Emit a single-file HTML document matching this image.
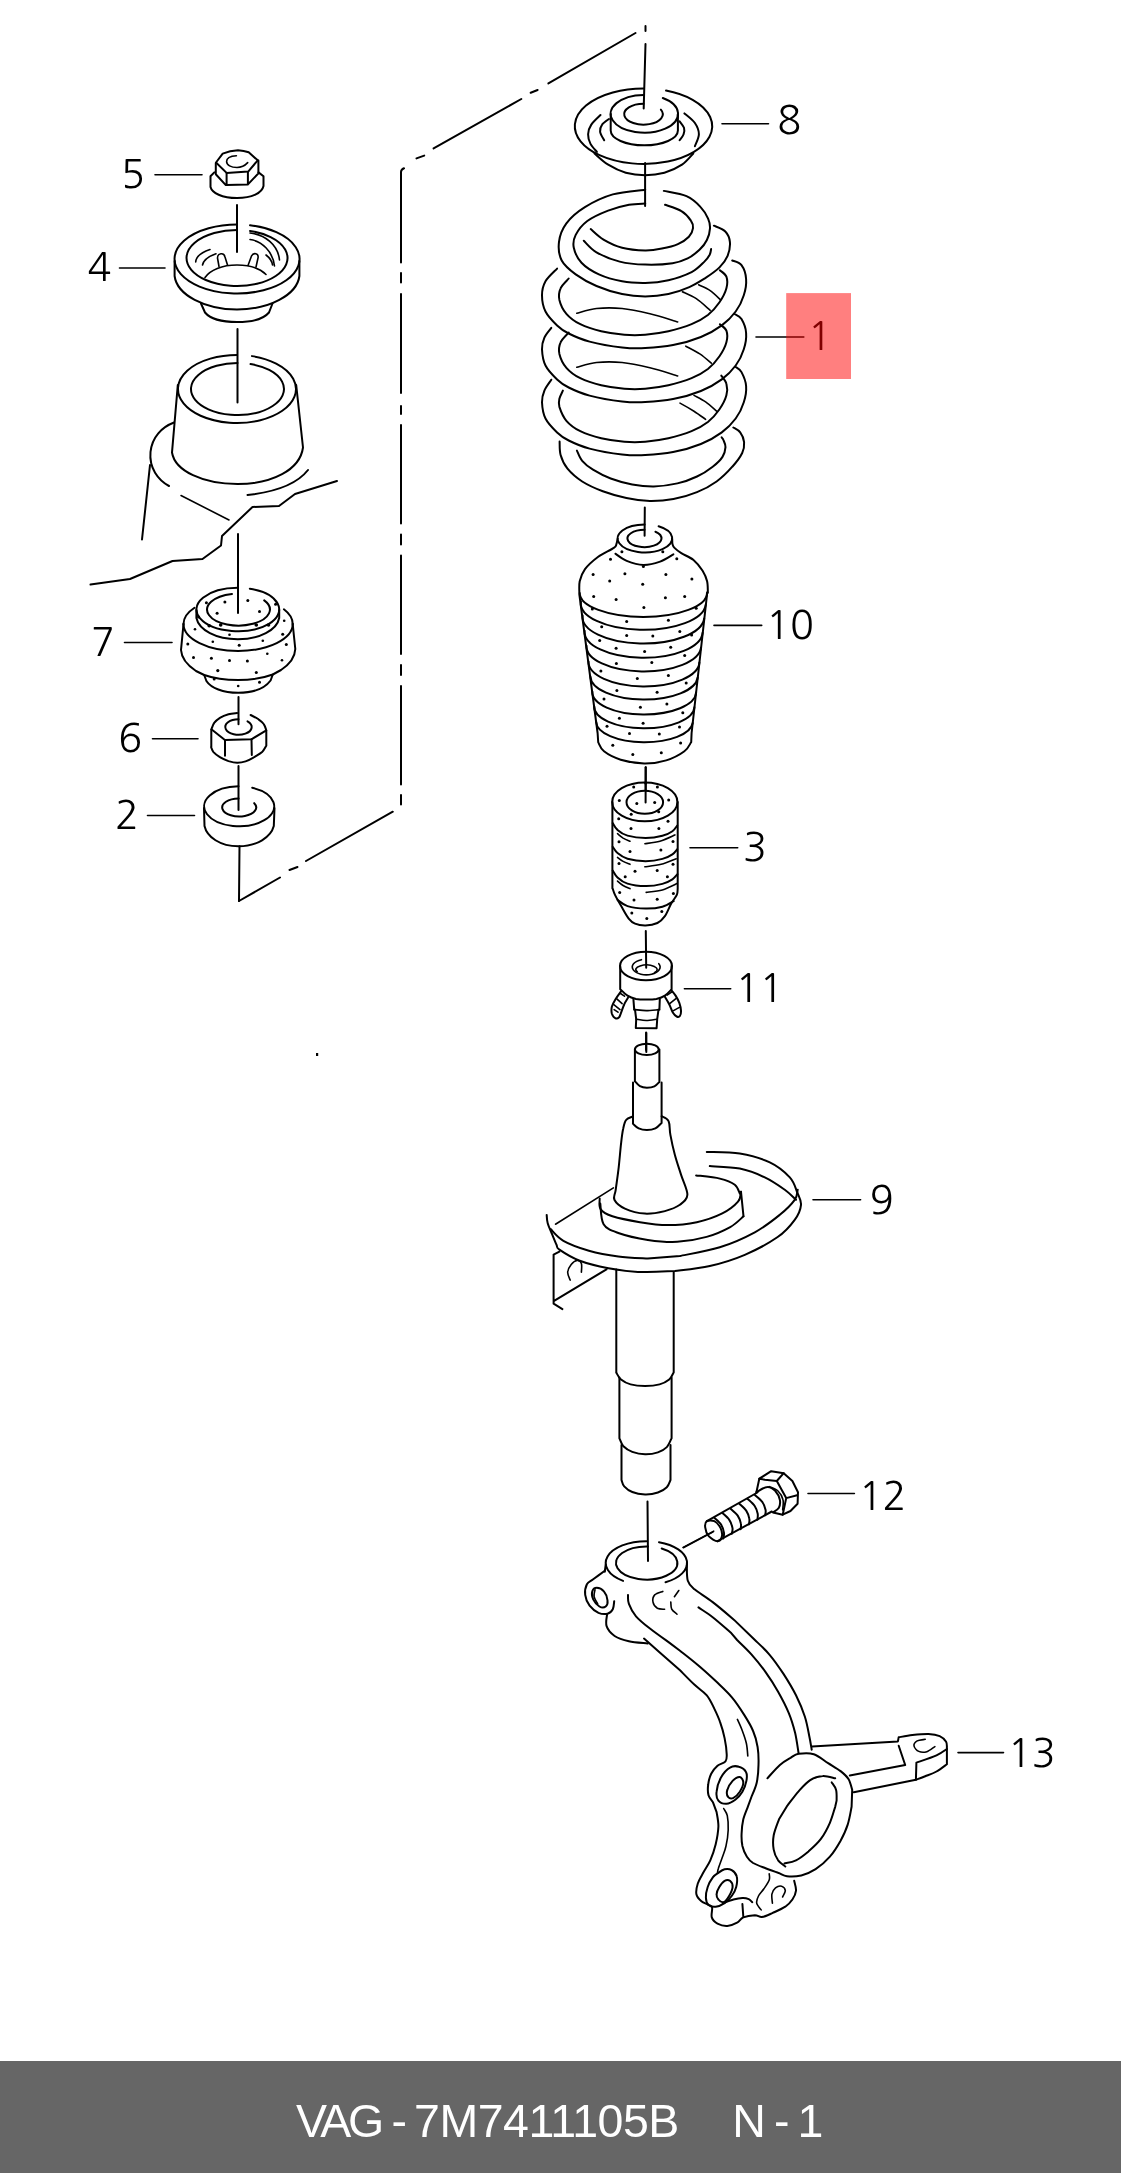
<!DOCTYPE html>
<html lang="en">
<head>
<meta charset="utf-8">
<title>VAG - 7M7411105B N - 1</title>
<style>
html,body{margin:0;padding:0;background:#fff;}
#page{will-change:transform;position:relative;width:1121px;height:2173px;overflow:hidden;background:#fff;}
#dia{position:absolute;left:0;top:0;width:1121px;height:2061px;display:block;}
#dia .l{fill:none;stroke:#000;stroke-width:2;stroke-linecap:round;stroke-linejoin:round;}
#dia .t{fill:none;stroke:#000;stroke-width:1.6;stroke-linecap:round;stroke-linejoin:round;}
#dia .w{fill:#fff;stroke:#000;stroke-width:2;stroke-linecap:round;stroke-linejoin:round;}
#dia .d{fill:#000;stroke:none;}
#dia text{font-family:"NanumGothic","Liberation Sans",sans-serif;font-size:39.5px;fill:#000;}
#foot{position:absolute;left:0;top:2061px;width:1121px;height:112px;background:#666;color:#fff;
font-family:"Liberation Sans",sans-serif;font-size:46.5px;line-height:54px;white-space:pre;word-spacing:-4.8px;}
#foot span{position:absolute;top:33.4px;}
#foot .a{left:296px;letter-spacing:-0.5px;}
#foot .a b{font-weight:normal;letter-spacing:-3.3px;margin-right:3px;}
#foot .c{left:732.3px;}
</style>
</head>
<body>
<div id="page">
<svg id="dia" viewBox="0 0 1121 2061" width="1121" height="2061">
<!--BOX-->
<g class="l">
<path d="M401 262.5V172Q401 169.5 404 168.3"/>
<path d="M401 273v9.5M401 294v99M401 406v8M401 425v98.5M401 534.5v10M401 555.5v98.5M401 665v10M401 686v98.5M401 795v9.5"/>
<path d="M416.5 158.4l7.7-2.8M433.6 148.4L521.3 99M530.7 92.8l6.9-2.8M548.4 83.4L635.5 33M645.5 26v5"/>
<path d="M392.8 811.7L306 861M297.5 867l-8 3M280 877.5L239 901"/>
</g>
<!--/BOX-->
<!--P5-->
<g class="l">
<!-- flange -->
<path d="M214.3 172.4L210.5 176.3V187C212 193 222 198 237 198S262 193 263.5 186V176.3L258.5 172.4"/>
<!-- hex top -->
<path d="M216 162.5L222.7 153.7Q230 150.6 238 150.3Q244 150.6 248.7 152.3L257.7 160.3L248.2 171.6L226.6 172.9Z"/>
<!-- hex sides -->
<path d="M215.8 163V174.3L225.8 185.1H226.6L247.7 184.6L258.4 173.4V160.6M226.6 172.9V185.1M247.9 171.9V184.6"/>
<!-- C -->
<path class="t" d="M236.4 155.7C230 156 226.6 158.5 226.6 161.6C226.6 165 231 167.5 237 167.5C242 167.5 245 165.5 247.7 162.6"/>
<!-- center line -->
<path d="M237 205V252"/>
</g>
<!--/P5-->
<!--P4-->
<g class="l">
<!-- outer rim ellipse with gap at top -->
<path d="M250.00 225.25A62.5 34.5 0 1 1 237.00 224.50"/>
<path d="M250.00 230.94A50.5 28 0 1 1 237.00 230.00"/>
<!-- rim lower edge -->
<path d="M174.6 261V276C177 295 205 309.5 237 309.5S297 295 299.4 276V261"/>
<!-- hub -->
<path d="M201 303.5L205 312.5C210 318.5 222 322 237 322S264 318.5 269 312.5L272.5 303.5"/>
<!-- inner arcs -->
<path class="t" d="M195.7 262C196 257 201 252.5 210 249.5M202.5 265C203.5 260 208 256.5 216 253.7"/>
<path class="t" d="M250 233C265 234.5 278 245 279.5 260M250 239.5C262 241 273 252 274.5 266M266 255C270 258 272 261 272.5 265"/>
<!-- tabs -->
<path class="t" d="M219 266.5L217.5 258C217.5 253 224 252 225 257L227.5 265"/>
<path class="t" d="M248 265.5L251.5 256C253.5 252 259 253.5 258 258L256 267"/>
<!-- floor -->
<path class="t" d="M205 277.5C210 270 222 265 237 265S260 268.5 266 274.5"/>
<!-- center line below -->
<path d="M237.5 329V402.5"/>
</g>
<!--/P4-->
<!--HOUSING-->
<g class="l">
<path d="M252.00 356.12A59 34 0 1 1 237.00 355.00"/>
<path d="M250.50 364.04A46.5 26 0 1 1 237.50 363.00"/>
<path d="M177.8 385L172 452.5C175 471 203 484 237.5 484S300 470 303 447.5L296.2 385"/>
<!-- base left arc -->
<path d="M174 422.5C162 427 152 437 150.5 452C149 468 158 480 169 486"/>
<path d="M150 465L142 539.5"/>
<!-- right arc -->
<path d="M308 470C297 484 275 492 247.5 495"/>
<path class="t" d="M181 495.5L229 520"/>
<!-- jagged edge -->
<path d="M337 481L295 494L279 506L252.5 507L222 536L221 545.5L202.5 559L172.5 561L130 579L90.5 584.5"/>
<!-- center line -->
<path d="M238 534V613"/>
</g>
<!--/HOUSING-->
<!--P7-->
<g class="l">
<!-- small cylinder top -->
<path d="M249.80 588.73A41.4 21.7 0 1 1 237.80 587.80"/>
<path d="M264.22 600.42A31.4 16 0 1 1 231.97 593.95"/>
<path d="M196.4 610V618C199 630 216 639.2 237.8 639.2S277 630 279.2 618V610"/>
<!-- main body top ellipse visible parts -->
<path d="M283.89 609.29A54.6 27 0 0 1 292.70 624.00"/>
<path d="M183.50 624.00A54.6 27 0 0 1 194.49 607.75"/>
<path d="M292.70 624.00A54.6 27 0 0 1 183.50 624.00"/>
<!-- body sides and bottom -->
<path d="M183.5 624L181 650C181.5 658 187 665 196 671L204.2 675C214 678.5 225 680 238.2 680S262 678.5 272.8 674.5L281 670C290 664 295 657 295.3 649L292.7 624"/>
<!-- hub -->
<path d="M204.2 675L206.4 681C211 688 223 692.8 238.2 692.8S265 688 270.6 680.5L272.8 674.5"/>
</g>
<g class="d">
<circle cx="206.4" cy="602.8" r="1.5"/><circle cx="224.9" cy="602.1" r="1.5"/><circle cx="247.8" cy="600.4" r="1.5"/><circle cx="275.6" cy="604.3" r="1.5"/>
<circle cx="217.1" cy="613.3" r="1.5"/><circle cx="259.5" cy="611.4" r="1.5"/><circle cx="198.5" cy="617.1" r="1.5"/><circle cx="209.2" cy="625.7" r="1.8"/>
<circle cx="220.7" cy="625" r="1.8"/><circle cx="256.3" cy="625" r="1.8"/><circle cx="268.5" cy="625" r="1.8"/>
<circle cx="195" cy="629.2" r="1.3"/><circle cx="229.5" cy="634.7" r="1.3"/><circle cx="284.2" cy="620.7" r="1.3"/><circle cx="282.7" cy="634.2" r="1.5"/>
<circle cx="262.8" cy="640.7" r="1.3"/><circle cx="212.8" cy="641.8" r="1.3"/><circle cx="239.2" cy="645.2" r="1.5"/>
<circle cx="187.8" cy="643.9" r="1.5"/><circle cx="286.3" cy="644.5" r="1.5"/><circle cx="193.5" cy="657.4" r="1.5"/><circle cx="211.4" cy="658.2" r="1.5"/>
<circle cx="229.5" cy="660.4" r="1.5"/><circle cx="247.4" cy="660.9" r="1.5"/><circle cx="267.3" cy="653.8" r="1.3"/><circle cx="282" cy="660.2" r="1.3"/>
<circle cx="217.8" cy="670.6" r="1.6"/><circle cx="256.3" cy="672.5" r="1.5"/>
<circle cx="214.2" cy="678.9" r="1.5"/><circle cx="259.5" cy="682.3" r="1.5"/><circle cx="238.2" cy="686" r="1.3"/>
</g>
<!--/P7-->
<!--P6-->
<g class="l">
<path d="M238.5 697V724.3"/>
<path d="M237.1 713.1C235.6 713.3 231.4 713.5 228.5 714.3C225.7 715.1 222.3 716.4 219.9 717.8C217.6 719.3 215.7 720.9 214.2 722.8C212.8 724.7 211.9 728.2 211.4 729.3L224.9 740L251.4 739.3L266.3 730.3L266.3 730.3C265.9 729.3 265.2 726.1 263.9 724.3C262.6 722.4 260.7 720.8 258.5 719.3C256.3 717.7 251.9 715.7 250.6 715"/>
<path d="M211.3 729.5V747L211.1 747.1C211.5 747.9 212.1 750.4 213.5 752.1C215 753.8 217.5 755.6 219.9 757.1C222.4 758.6 225.7 760.1 228.5 761.1C231.4 762 234.2 762.8 237.1 762.8C239.9 762.9 242.8 762.3 245.6 761.4C248.5 760.4 251.5 758.6 254.2 757.1C256.9 755.5 260 754 262.1 752.1C264.1 750.2 265.6 746.7 266.3 745.7V730.5M225 740V755.7M251.5 739.3L251.8 755"/>
<path d="M247.50 721.29A13.2 7.8 0 1 1 238.50 719.20"/>
<path d="M238.5 766V810"/>
</g>
<!--/P6-->
<!--P2-->
<g class="l">
<path d="M252.20 787.73A35 20 0 1 1 238.50 786.30"/>
<path d="M254.21 803.17A17 9 0 1 1 238.61 798.41"/>
<path d="M204 808L204.5 826C207 837 220 846.3 238.5 846.3S271 837 273.8 826L274.5 808"/>
<path d="M239.5 846.3L239 901"/>
</g>
<!--/P2-->
<!--P8-->
<g class="l">
<path d="M645.5 44L643.7 108.5M645.1 163V206"/>
<path d="M666.00 90.58A68.7 37.7 0 1 1 643.50 88.50"/>
<path d="M594.5 153.5C596.8 155.4 603 161.5 608.2 164.7C613.4 167.9 619.7 171 625.8 172.8C632 174.5 638.7 175.2 645.1 175.2C651.5 175.2 658.2 174.5 664.4 172.8C670.5 171 677.2 167.9 682 164.7C686.8 161.5 691.4 155.4 693.3 153.5"/>
<path d="M600.5 115C598.9 116.6 593.4 121.4 591.3 124.6C589.2 127.8 588.2 131 588.1 134.2C588 137.4 589 140.9 590.5 143.9C592 146.8 595.9 150.6 596.9 151.9"/>
<path d="M684.4 113.4C686.2 115 692.5 119.5 694.9 123C697.3 126.5 698.9 130.3 698.9 134.2C698.9 138.1 695.5 144.3 694.9 146.3"/>
<path d="M609 119C607.8 119.9 603.5 122.5 602.1 124.6C600.6 126.7 599.8 129.2 600.1 131.8C600.5 134.4 603.5 138.9 604.2 140.3"/>
<path d="M679.6 121.4C680.3 122.5 683.3 125.7 684 127.8C684.6 129.9 684.4 132.1 683.6 134.2C682.9 136.3 680.3 139.3 679.6 140.3"/>
<path d="M662.80 97.99A33.7 18.9 0 1 1 643.50 94.91"/>
<path d="M610.7 114V130.5A33.6 14.8 0 0 0 677.90 130.50V114"/>
<path d="M660.85 109.64A19.3 10.4 0 1 1 643.50 103.80"/>
</g>
<!--/P8-->
<!--P1-->
<g class="l">
<!-- coil 1 -->
<path d="M645.2 189.7C639.8 190.5 622.8 191.5 612.8 194.4C602.7 197.3 592.7 202.3 584.9 207.1C577.2 211.9 570.7 217.5 566.4 223.3C562.1 229.1 559.7 235.7 559 241.9C558.2 248.1 559 255 561.7 260.5C564.5 265.9 569.9 270.1 575.7 274.4C581.5 278.6 588.8 282.7 596.5 286C604.3 289.3 613.9 292.3 622.1 294.1C630.2 295.8 637.5 296.4 645.2 296.4C653 296.4 661.1 295.6 668.4 294.1C675.8 292.5 683.1 289.8 689.3 287.1C695.5 284.4 700.5 281.1 705.6 277.9C710.6 274.6 715.8 271.1 719.5 267.4C723.1 263.7 725.8 260.1 727.6 255.8C729.3 251.6 730.3 246 729.9 241.9C729.5 237.8 727.9 234.2 725.3 231.5C722.6 228.8 715.8 226.6 713.9 225.7"/>
<path d="M645.2 203.6C642.5 203.8 635.2 203.6 629 204.8C622.8 206 615.1 207.9 608.1 210.6C601.2 213.3 592.7 217 587.3 221C581.9 225.1 577.9 230.5 575.7 234.9C573.4 239.4 572.8 243.1 573.8 247.7C574.8 252.3 577.3 258.3 581.5 262.8C585.6 267.2 592.1 271.3 598.9 274.4C605.6 277.5 614.3 279.9 622.1 281.3C629.8 282.8 637.5 283.1 645.2 283C653 282.8 660.7 282 668.4 280.2C676.2 278.4 685.6 275.1 691.6 272.1C697.6 269 701.4 264.5 704.4 261.6C707.4 258.7 708.6 256.7 709.7 254.7C710.8 252.6 710.9 250 711.1 249.1"/>
<path d="M663.8 190.9C667.6 191.8 680.4 193.5 686.5 196.2C692.6 198.9 696.9 203.1 700.4 206.9C704 210.6 706.5 215.1 708.1 218.7C709.7 222.3 710.2 224.9 710 228.4C709.8 232 708.7 236.5 706.9 240C705.2 243.6 702.7 246.7 699.5 249.8C696.3 252.8 692.2 256.1 687.7 258.4C683.2 260.6 679.7 262.2 672.6 263.2C665.5 264.3 654.1 264.9 645.2 264.6C636.4 264.4 627.9 263.7 619.7 261.6C611.6 259.6 602.5 255.8 596.5 252.3C590.5 248.9 585.9 242.7 583.8 240.7"/>
<path d="M665 204.8C667.7 205.8 677.1 208.4 681.4 211.1C685.8 213.7 689 217.7 690.9 220.6C692.9 223.4 693.4 225.5 693 228.2C692.7 230.9 691.4 234.1 688.9 236.8C686.3 239.5 682.4 242.2 677.9 244.2C673.5 246.2 667.4 247.6 661.9 248.6C656.5 249.7 651.9 250.6 645.2 250.5C638.6 250.3 629 249.5 622.1 247.7C615.1 245.9 608.7 242.7 603.5 239.6C598.3 236.5 592.9 230.9 590.7 229.1"/>
<!-- coil 2 -->
<path d="M557.1 268.6C555.2 270.7 548 276.9 545.5 281.3C543 285.8 542 290.2 542 295.2C542 300.3 543 306.5 545.5 311.5C548 316.5 553.2 321.7 557.1 325.4C561 329.1 563.3 330.8 568.7 333.5C574.1 336.2 580.7 339.3 589.6 341.6C598.5 344 612.8 346.4 622.1 347.4C631.3 348.5 636.7 348.5 645.2 348.1C653.8 347.7 663.8 347 673.1 345.1C682.4 343.3 692.8 340.3 700.9 337C709 333.7 716 329.7 721.8 325.4C727.6 321.1 732 316.5 735.7 311.5C739.4 306.5 742.1 300.7 743.8 295.2C745.6 289.8 746.5 284 746.1 279C745.8 274 743.8 268.2 741.5 265.1C739.2 262 733.8 261.2 732.2 260.5"/>
<path d="M568.7 278.5C567.4 280.2 562.1 284.7 560.6 288.3C559 291.8 558.5 295.6 559.4 299.9C560.4 304.1 562.9 309.7 566.4 313.8C569.9 317.9 574.5 321.3 580.3 324.2C586.1 327.1 593.8 329.5 601.2 331.2C608.5 332.9 617 334.1 624.4 334.7C631.7 335.3 637.9 335.3 645.2 334.7C652.6 334.1 660.7 332.9 668.4 331.2C676.2 329.5 685.1 326.9 691.6 324.2C698.2 321.5 703.2 318.6 707.9 315C712.5 311.3 716.4 306.7 719.5 302.2C722.6 297.8 725.3 292.5 726.4 288.3C727.6 284 727.5 279.7 726.4 276.7C725.3 273.7 721 271.3 719.9 270.2"/>
<path class="t" d="M576.8 313.3C580.1 312.5 589 309.3 596.5 308.5C604.1 307.7 613.2 307.6 622.1 308.5C630.9 309.4 640.6 311.6 649.9 313.8C659.2 316 673.1 320.6 677.7 321.9M682.4 291.8C684.7 292.9 691.6 295.6 696.3 298.7C700.9 301.8 707.9 308.4 710.2 310.3M698.6 284.8C700.5 285.8 706.5 288.1 710.2 290.6C713.9 293.1 718.9 298.3 720.6 299.9"/>
<!-- coil 3 -->
<path d="M551.3 327.9C550.2 329.5 545.9 334.1 544.4 337.6C542.8 341.2 541.8 344.6 542 349.2C542.2 353.9 543 360.5 545.5 365.5C548 370.5 553.2 375.7 557.1 379.4C561 383.1 563.3 384.8 568.7 387.5C574.1 390.2 580.7 393.3 589.6 395.6C598.5 398 612.8 400.4 622.1 401.4C631.3 402.5 636.7 402.5 645.2 402.1C653.8 401.7 663.8 401 673.1 399.1C682.4 397.3 692.8 394.3 700.9 391C709 387.7 716 383.7 721.8 379.4C727.6 375.1 732 370.5 735.7 365.5C739.4 360.5 742.1 354.7 743.8 349.2C745.6 343.8 746.5 338 746.1 333C745.8 328 743.4 322.3 741.5 319.1C739.6 315.9 735.7 314.8 734.5 314"/>
<path d="M568.7 332.5C567.4 334.2 562.1 338.7 560.6 342.3C559 345.8 558.5 349.6 559.4 353.9C560.4 358.1 562.9 363.7 566.4 367.8C569.9 371.9 574.5 375.3 580.3 378.2C586.1 381.1 593.8 383.5 601.2 385.2C608.5 386.9 617 388.1 624.4 388.7C631.7 389.3 637.9 389.3 645.2 388.7C652.6 388.1 660.7 386.9 668.4 385.2C676.2 383.5 685.1 380.9 691.6 378.2C698.2 375.5 703.2 372.6 707.9 369C712.5 365.3 716.4 360.7 719.5 356.2C722.6 351.8 725.3 346.5 726.4 342.3C727.6 338 727.5 333.7 726.4 330.7C725.3 327.7 721 325.3 719.9 324.2"/>
<path class="t" d="M576.8 367.3C580.1 366.5 589 363.3 596.5 362.5C604.1 361.7 613.2 361.6 622.1 362.5C630.9 363.4 640.6 365.6 649.9 367.8C659.2 370 673.1 374.6 677.7 375.9M685.8 346.2C688.2 347.5 695.5 351.1 699.8 353.9C704 356.7 709.4 361.6 711.3 363.2"/>
<!-- coil 4 -->
<path d="M551.3 379.7C550.2 381.6 545.9 386.9 544.4 390.6C542.8 394.4 541.8 397.6 542 402.2C542.2 406.9 543 413.5 545.5 418.5C548 423.5 553.2 428.7 557.1 432.4C561 436.1 563.3 437.8 568.7 440.5C574.1 443.2 580.7 446.3 589.6 448.6C598.5 451 612.8 453.4 622.1 454.4C631.3 455.5 636.7 455.5 645.2 455.1C653.8 454.7 663.8 454 673.1 452.1C682.4 450.3 692.8 447.3 700.9 444C709 440.7 716 436.7 721.8 432.4C727.6 428.1 732 423.5 735.7 418.5C739.4 413.5 742.1 407.7 743.8 402.2C745.6 396.8 746.5 391 746.1 386C745.8 381 743.2 375.3 741.5 372.1C739.8 368.9 736.7 367.8 735.7 367"/>
<path d="M562.9 390.6C562.3 392 560 396.1 559.4 398.8C558.8 401.5 558.3 403.2 559.4 406.9C560.6 410.6 562.9 416.7 566.4 420.8C569.9 424.9 574.5 428.3 580.3 431.2C586.1 434.1 593.8 436.5 601.2 438.2C608.5 439.9 617 441.1 624.4 441.7C631.7 442.3 637.9 442.3 645.2 441.7C652.6 441.1 660.7 439.9 668.4 438.2C676.2 436.5 685.1 433.9 691.6 431.2C698.2 428.5 703.2 425.6 707.9 422C712.5 418.3 716.4 413.7 719.5 409.2C722.6 404.8 725.3 399.5 726.4 395.3C727.6 391 727.3 387 726.4 383.7C725.6 380.4 722.2 376.9 721.3 375.6"/>
<path class="t" d="M680 403.1C682.4 404.4 689.7 408.5 694 411.2C698.2 413.9 703.6 417.9 705.6 419.3M694 395.4C695.9 396.5 701.8 399.3 705.6 401.9C709.3 404.5 714.8 409.6 716.7 411.2"/>
<!-- coil 5 -->
<path d="M559.6 441.6C559.8 443.8 559.3 450.4 560.6 455C561.9 459.5 563.9 464.3 567.5 468.7C571.1 473.1 576.3 477.7 582.2 481.5C588.1 485.2 595.4 488.5 602.8 491.3C610.2 494 618.5 496.5 626.4 498.1C634.2 499.8 642.1 500.9 649.9 501.1C657.8 501.2 665.6 500.6 673.5 499.1C681.3 497.6 689.8 495.2 697 492.2C704.2 489.3 710.8 485.7 716.6 481.5C722.5 477.2 728.1 471.5 732.3 466.7C736.6 462 740.2 457.1 742.2 453C744.1 448.9 744.4 445.6 744.1 442.2C743.8 438.8 742 434.8 740.2 432.4C738.4 429.9 734.5 428.3 733.3 427.5"/>
<path d="M576.9 450.6C577.8 452.3 579.5 457.7 582.2 460.8C584.9 464 588.2 466.7 593 469.7C597.7 472.6 604.1 476.1 610.7 478.5C617.2 481 625.1 483.1 632.2 484.4C639.4 485.7 646.3 486.5 653.8 486.4C661.4 486.2 670.2 485.1 677.4 483.4C684.6 481.8 691.1 479.3 697 476.5C702.9 473.8 708.5 470 712.7 466.7C717 463.5 720.4 460.2 722.5 456.9C724.7 453.6 725.3 449.9 725.5 447.1C725.6 444.3 724.2 441.9 723.5 440.2C722.9 438.6 721.9 437.8 721.6 437.3"/>

</g>
<!--/P1-->
<!--P10-->
<g class="l">
<path d="M644.8 507.5L644.6 535.8"/>
<path d="M658.60 526.29A27.3 14 0 1 1 644.60 524.40"/>
<path d="M655.43 531.74A17 8.7 0 1 1 644.50 529.70"/>
<!-- neck & shoulders & sides -->
<path d="M617.6 538.8C617.4 539.7 617 542.6 616.4 544.1C615.8 545.6 616.9 545.8 613.8 547.9C610.8 550.1 602.7 553.5 597.9 557C593.1 560.6 588.1 565.1 585 569.1C582 573.2 580.7 577 579.7 581.3C578.8 585.6 579.5 592.7 579.4 594.9L597.6 733L598.2 742L598.2 742.2C599.2 743.7 600.2 748.4 604 751.3C607.7 754.2 614 757.6 620.7 759.7C627.4 761.7 636.6 763.3 644.2 763.5C651.8 763.6 659.5 762.4 666.2 760.4C672.9 758.4 680.2 754.4 684.4 751.3C688.5 748.3 690 743.7 691.2 742.2L691.6 733L707.3 592L707.9 592.7C707.7 590.8 708 584.9 707.1 581.3C706.2 577.6 704.8 574.2 702.6 570.7C700.3 567.1 697 563 693.5 560C689.9 557.1 684.5 555.2 681.3 553.2C678.2 551.2 676 549.4 674.5 547.9C673 546.4 672.9 545.6 672.5 544.1C672.1 542.6 672.3 539.7 672.2 538.8"/>
<path d="M615.4 553.7C617.2 554.9 622.1 558.9 626.7 560.8C631.4 562.7 637.8 564.8 643.4 564.9C649 565 655.1 563.3 660.1 561.6C665.1 559.8 671.2 555.5 673.4 554.3"/>
<path d="M579.7 592.9A63.6 24.0 0 0 0 707.0 592.9M580.9 601.8A62.4 26.5 0 0 0 705.7 604.8M582.6 615.5A60.8 26.5 0 0 0 704.2 618.5M584.6 630.8A59.0 26.0 0 0 0 702.6 632.8M586.5 645.7A57.3 25.0 0 0 0 701.0 647.7M588.5 661.4A55.4 24.5 0 0 0 699.4 662.4M590.4 676.5A53.7 23.5 0 0 0 697.7 677.5M592.3 691.5A51.9 22.5 0 0 0 696.1 692.5M594.2 706.3A50.1 21.5 0 0 0 694.4 707.3M596.2 722.0A48.3 20.5 0 0 0 692.7 723.0"/>
<path d="M645.7 767.2V790"/>
</g>
<g class="d">
<circle cx="621.9" cy="551.7" r="1.5"/><circle cx="662.8" cy="551.7" r="1.5"/><circle cx="610.5" cy="559.3" r="1.5"/><circle cx="676.8" cy="558.8" r="1.5"/><circle cx="643.4" cy="566.4" r="1.5"/><circle cx="593.1" cy="574.5" r="1.5"/><circle cx="624.9" cy="573.7" r="1.5"/><circle cx="665.9" cy="574.5" r="1.5"/><circle cx="691.9" cy="579" r="1.5"/><circle cx="609.7" cy="581" r="1.5"/><circle cx="642.7" cy="584.3" r="1.5"/><circle cx="593.7" cy="596.4" r="1.5"/><circle cx="616.1" cy="599.5" r="1.5"/><circle cx="665.4" cy="597.7" r="1.5"/><circle cx="684.7" cy="596.4" r="1.5"/><circle cx="643.9" cy="607.4" r="1.5"/><circle cx="592.3" cy="608.9" r="1.5"/><circle cx="696.2" cy="608.3" r="1.5"/><circle cx="626.7" cy="621.5" r="1.5"/><circle cx="668.4" cy="620.3" r="1.5"/><circle cx="601.7" cy="626.8" r="1.5"/><circle cx="679.8" cy="631.6" r="1.5"/><circle cx="626.7" cy="635.4" r="1.5"/><circle cx="652.8" cy="635.9" r="1.5"/><circle cx="691.6" cy="635.1" r="1.5"/><circle cx="599.7" cy="640.4" r="1.5"/><circle cx="616.1" cy="648.3" r="1.5"/><circle cx="670.7" cy="647.2" r="1.5"/>
<circle cx="644.6" cy="651.5" r="1.5"/><circle cx="684.7" cy="655.5" r="1.5"/><circle cx="616.4" cy="663.4" r="1.5"/><circle cx="651.8" cy="662.6" r="1.5"/><circle cx="600.9" cy="670.9" r="1.5"/><circle cx="668.4" cy="675.5" r="1.5"/><circle cx="637.3" cy="678.5" r="1.5"/><circle cx="686.2" cy="683.1" r="1.5"/><circle cx="616.9" cy="690.4" r="1.5"/><circle cx="657.1" cy="692.2" r="1.5"/><circle cx="604" cy="699" r="1.5"/><circle cx="666.9" cy="704" r="1.5"/><circle cx="640.4" cy="707.3" r="1.5"/><circle cx="682.8" cy="712.7" r="1.5"/><circle cx="619.4" cy="718.3" r="1.5"/><circle cx="643.1" cy="723.3" r="1.5"/><circle cx="607" cy="726.3" r="1.5"/><circle cx="679.5" cy="727.1" r="1.5"/><circle cx="629.5" cy="733.6" r="1.5"/><circle cx="659.3" cy="733.9" r="1.5"/><circle cx="612.8" cy="745.3" r="1.5"/><circle cx="680.6" cy="743" r="1.5"/><circle cx="632.8" cy="754.4" r="1.5"/><circle cx="661.3" cy="752.8" r="1.5"/>
</g>
<!--/P10-->
<!--P3-->
<g class="l">
<path d="M645.7 767.2L645.6 802.5"/>
<path d="M677.40 801.90A32.6 19.4 0 0 1 612.20 801.90A32.6 19.4 0 0 1 677.40 801.90"/>
<path d="M663.10 802.20A18.3 11.5 0 0 1 626.50 802.20A18.3 11.5 0 0 1 663.10 802.20"/>
<!-- sides & taper -->
<path d="M612.4 802V888.6L612.7 888.6C613.1 889.7 613.6 892 615 894.9C616.4 897.8 618.9 902.2 621.2 906.1C623.5 910.1 626.4 915.7 628.7 918.6C631 921.5 632.1 922.5 635 923.6C637.8 924.8 641.8 925.6 645.6 925.5C649.3 925.4 654.2 924.5 657.4 923C660.7 921.4 662.6 919.3 664.9 916.1C667.2 912.9 669.2 907.2 671.2 903.6C673.1 900.1 675.7 897.4 676.8 894.9C677.9 892.4 677.5 889.7 677.7 888.6V802"/>
<!-- segment arcs -->
<path d="M612.7 823.1C613.5 824.2 615 827.9 617.5 829.9C619.9 832 622.8 834.2 627.5 835.6C632.1 836.9 639.7 838 645.6 838.1C651.4 838.1 658 837 662.4 835.8C666.9 834.7 670 832.9 672.4 831.2C674.9 829.5 676.4 826.5 677.2 825.6"/>
<path d="M612.7 846.8C613.5 847.8 615 851.1 617.5 853C619.9 855 622.8 857.3 627.5 858.7C632.1 860 639.7 861.1 645.6 861.2C651.4 861.2 658 860.1 662.4 858.9C666.9 857.8 670 855.9 672.4 854.3C674.9 852.7 676.4 850.1 677.2 849.3"/>
<path d="M612.7 870.5C613.5 871.7 615 875.2 617.5 877.4C619.9 879.6 622.8 882.2 627.5 883.6C632.1 885.1 639.7 886.1 645.6 886.1C651.4 886.2 658 885 662.4 883.9C666.9 882.7 669.9 880.9 672.4 879.3C674.9 877.7 676.6 875.1 677.4 874.3"/>
<path d="M617.5 899.9C619.1 900.9 622.8 904.7 627.5 906.1C632.1 907.6 639.7 908.5 645.6 908.6C651.4 908.7 657.7 908 662.4 906.7C667.1 905.5 671.8 902.1 673.7 901.1"/>
<path class="t" d="M617.5 833.7C618.4 834.4 621 836.8 623.1 838.1C625.2 839.3 628.8 840.7 630 841.2M644.9 843.7C647.4 843.3 654.9 842.6 659.9 841.2C664.9 839.7 672.4 836 674.9 834.9"/>
<path class="t" d="M617.5 857.4C618.4 858.1 621 860.3 623.1 861.4C625.2 862.6 628.8 863.8 630 864.3M644.9 866.8C647.6 866.4 656 865.6 661.2 864.3C666.4 862.9 673.7 859.6 676.2 858.7"/>
<path class="t" d="M617.5 881.1C618.4 881.9 621 884.3 623.1 885.5C625.2 886.8 628.8 888.1 630 888.6M646.2 892.4C648.9 892 657.3 891.3 662.4 889.9C667.5 888.4 674.4 884.7 676.8 883.6"/>
</g>
<g class="d">
<circle cx="619.3" cy="800.6" r="1.5"/><circle cx="668.7" cy="800" r="1.5"/><circle cx="636.8" cy="803.5" r="1.5"/><circle cx="654.7" cy="802.5" r="1.5"/><circle cx="631.2" cy="814.3" r="1.5"/><circle cx="658.7" cy="811.8" r="1.5"/><circle cx="633.7" cy="786.9" r="1.5"/><circle cx="657.4" cy="786.9" r="1.5"/><circle cx="645.6" cy="783.1" r="1.5"/><circle cx="618.7" cy="818.7" r="1.5"/><circle cx="668" cy="821.2" r="1.5"/><circle cx="631" cy="828.4" r="1.5"/><circle cx="658.9" cy="828.4" r="1.5"/><circle cx="619" cy="841.8" r="1.5"/><circle cx="673" cy="841.4" r="1.5"/><circle cx="630" cy="851.4" r="1.5"/><circle cx="660.9" cy="849.9" r="1.5"/><circle cx="619" cy="863.4" r="1.5"/><circle cx="673" cy="864.3" r="1.5"/><circle cx="635" cy="871.2" r="1.5"/><circle cx="657.2" cy="870.5" r="1.5"/><circle cx="625.2" cy="876.8" r="1.5"/><circle cx="667.4" cy="876.8" r="1.5"/><circle cx="619.7" cy="892.6" r="1.5"/><circle cx="673.4" cy="893.6" r="1.5"/><circle cx="634" cy="900.1" r="1.5"/><circle cx="657.2" cy="899.3" r="1.5"/><circle cx="631.8" cy="913" r="1.5"/><circle cx="661.8" cy="911.4" r="1.5"/><circle cx="646.8" cy="918.6" r="1.5"/>
</g>
<!--/P3-->
<!--P11-->
<g class="l">
<path d="M645.8 931L646.2 967.8"/>
<path d="M672.00 966.00A26 14.2 0 0 1 620.00 966.00A26 14.2 0 0 1 672.00 966.00"/>
<path class="t" d="M658.80 963.70A13.9 7.8 0 1 1 641.45 959.67"/>
<path class="t" d="M637.23 971.75A10.7 4.5 0 1 1 654.70 972.39"/>
<path d="M620.2 966V989.2L620.3 989.2C621.5 990.3 624.8 994 627.5 995.6C630.1 997.3 632.9 998.2 636 998.9C639.2 999.5 642.8 999.5 646.2 999.5C649.6 999.5 653.2 999.5 656.4 998.9C659.5 998.2 662.4 997.3 664.9 995.6C667.5 994 670.5 990.3 671.6 989.2V966"/>
<!-- stem -->
<path d="M633.4 999.1L634.2 1009.6L635 1009.6L636.2 1019.2L635.8 1028L656.6 1028.3L657.2 1019.2L658.5 1009.6L659.4 1009.6L659.8 999.1"/>
<path class="t" d="M634.2 1009.6C636.2 1009.7 642 1010.6 646.2 1010.6C650.4 1010.6 657.2 1009.7 659.4 1009.6M636.2 1019.2C637.9 1019.4 642.7 1020.5 646.2 1020.5C649.7 1020.5 655.4 1019.4 657.2 1019.2"/>
<!-- legs -->
<path d="M621 991.4C620.2 992.6 617.2 996.4 615.7 998.9C614.2 1001.4 612.6 1003.9 611.9 1006.4C611.3 1008.9 611.4 1011.9 611.9 1013.8C612.5 1015.8 614 1017.5 615.2 1018.1C616.3 1018.8 617.9 1018.5 618.9 1017.6C619.9 1016.7 620.2 1015 621 1012.8C621.9 1010.5 623.1 1006.7 624.3 1004.2C625.4 1001.7 627.4 998.9 628 997.8"/>
<path class="t" d="M620.5 993.5L624.5 996.2M616.8 998.9L622.1 1003.7M613.8 1004.7L620 1009.6M614.1 1009.6L618 1012.2"/>
<path d="M671.4 990.3C672.1 991.2 674.3 993.5 675.6 995.6C677 997.8 678.5 1000.6 679.4 1003.1C680.3 1005.6 680.9 1008.5 681 1010.6C681.1 1012.8 680.6 1015 679.9 1016C679.2 1017 677.9 1017.1 676.7 1016.5C675.5 1016 674.2 1014.8 673 1012.8C671.7 1010.7 670.6 1006.9 669.2 1004.2C667.9 1001.5 665.6 998 664.9 996.7"/>
<path class="t" d="M667.1 995.1L672.4 991.6M669.7 1003.7L676.2 998.3M673.5 1010.6L679.4 1007.4"/>
<path d="M646.3 1033V1052"/>
</g>
<!--/P11-->
<!--P9-->
<g class="l">
<path d="M646.1 1032.5V1050"/>
<!-- rod -->
<path d="M658.70 1049.40A11.9 5.6 0 0 1 634.90 1049.40A11.9 5.6 0 0 1 658.70 1049.40"/>
<path d="M634.9 1049.5V1081.2L634.9 1081.2C635.7 1082 637.9 1085.1 639.9 1086.2C641.9 1087.3 644.5 1087.7 646.9 1087.7C649.3 1087.7 652.3 1087.4 654.4 1086.4C656.5 1085.5 658.5 1082.7 659.4 1081.9V1049.5"/>
<path d="M633 1082.5V1123.7L632.9 1123.7C633.9 1124.4 636.3 1127.3 638.7 1128.4C641 1129.5 644.1 1130.1 646.9 1130.1C649.7 1130.1 652.9 1129.6 655.4 1128.4C657.8 1127.2 660.6 1123.8 661.6 1122.9V1082.5"/>
<!-- cone -->
<path d="M632.9 1116.4C631.8 1117 627.8 1117.9 626.2 1119.9C624.5 1121.9 624 1124.9 623.2 1128.7C622.3 1132.4 621.9 1135.9 621.2 1142.4C620.4 1148.8 619.6 1159.5 618.7 1167.4C617.8 1175.3 616.4 1184.4 615.7 1189.8C615 1195.3 612.9 1196.7 614.4 1199.8C616 1203 619.8 1206.3 624.9 1208.6C630 1210.9 638.2 1213.2 644.9 1213.6C651.6 1214 659 1212.5 664.9 1211.1C670.7 1209.6 676.1 1207.5 679.9 1204.8C683.6 1202.1 687.1 1199.8 687.4 1194.8C687.6 1189.8 683.2 1181.5 681.1 1174.9C679 1168.2 676.7 1161.5 674.9 1154.9C673.1 1148.2 671.4 1140.5 670.4 1134.9C669.3 1129.3 670.1 1124.3 668.6 1121.2C667.2 1118 662.8 1117 661.6 1116.2"/>
<!-- pedestal disc -->
<path d="M696.1 1175.4C700 1175.9 713.4 1177 719.8 1178.6C726.3 1180.2 731.5 1182.3 734.8 1184.8C738.1 1187.3 739 1192.1 739.8 1193.6"/>
<path d="M599.7 1198.6C599.8 1200.4 598.5 1206.5 600.7 1209.4C602.8 1212.4 605.9 1214.2 612.4 1216.3C619 1218.4 630.8 1220.7 639.9 1222.2C649.1 1223.7 657.9 1225.1 667.4 1225.1C676.9 1225.1 687.7 1224.2 696.8 1222.2C706 1220.2 715.5 1216.8 722.3 1213.4C729.2 1209.9 734.9 1205.2 738 1201.6C741.2 1198 740.5 1193.4 741 1191.8"/>
<path d="M600.3 1203.6C600.8 1207 600.6 1219.3 603.6 1224.2C606.6 1229.1 611 1230.4 618.3 1233C625.7 1235.6 637.9 1238.4 647.8 1239.9C657.6 1241.3 667.4 1242.3 677.2 1241.8C687 1241.3 697.8 1239.4 706.6 1236.9C715.5 1234.5 724 1230.5 730.2 1227.1C736.3 1223.7 741.3 1218.1 743.5 1216.3"/>
<path d="M741 1191.8L743.5 1216.3"/>
<!-- spring plate back arcs -->
<path d="M706.8 1151.9C712.3 1152.2 729.3 1151.9 739.8 1153.6C750.3 1155.4 761.4 1158.4 769.8 1162.4C778.1 1166.3 785.2 1172.4 789.8 1177.4C794.3 1182.3 795.4 1187.8 797.2 1192.3C799.1 1196.9 801.4 1200.2 801 1204.8C800.6 1209.4 798.7 1214.4 794.7 1219.8C790.8 1225.2 785.6 1231.5 777.3 1237.3C768.9 1243.1 756 1250 744.8 1254.8C733.6 1259.6 721.5 1263.3 709.8 1266C698.2 1268.7 680.7 1270.2 674.9 1271L667.4 1271.3C662.5 1271.4 647.8 1272.3 637.9 1271.9C628.1 1271.4 618.3 1270.2 608.5 1268.3C598.7 1266.4 587.2 1263.6 579.1 1260.5C570.9 1257.4 563.2 1252.3 559.4 1249.7C555.7 1247.1 557.8 1247.5 556.5 1244.8C555.2 1242 553.1 1236.6 551.6 1233C550.1 1229.4 548.5 1226.2 547.7 1223.2C546.8 1220.2 546.8 1216.3 546.7 1214.9"/>
<path d="M709.8 1166.1C714.8 1166.5 730.6 1166.7 739.8 1168.6C749 1170.5 757.3 1173.8 764.8 1177.4C772.3 1180.9 779.6 1186.1 784.8 1189.8C790 1193.6 794.1 1198.2 796 1199.8"/>
<path d="M797.7 1189.8C797.2 1191.5 797.7 1195.7 794.7 1199.8C791.7 1204 786.4 1209.4 779.8 1214.8C773.1 1220.2 764.8 1226.9 754.8 1232.3C744.8 1237.7 732.3 1243.3 719.8 1247.3C707.3 1251.2 686.5 1254.6 679.9 1256L647.8 1258.5C642.9 1258.2 628.1 1257.9 618.3 1256.5C608.5 1255.2 598 1253.3 588.9 1250.7C579.7 1248 569.7 1244.4 563.4 1240.8C557 1237.2 552.7 1231 550.6 1229.1"/>
<!-- diagonal line -->
<path class="t" d="M555.5 1224.2L613.4 1187.9"/>
<!-- bracket -->
<path d="M559.4 1251.6L553.6 1254.6L553.6 1303.7L562.4 1309.1M554.5 1300.7L606.5 1269.3"/>
<path class="t" d="M581.4 1272.2C581.4 1270.8 582.1 1265.4 581.4 1263.4C580.7 1261.5 578.8 1260.3 577.1 1260.5C575.4 1260.6 572.8 1262.4 571.2 1264.4C569.6 1266.4 567.8 1269.6 567.7 1272.2C567.5 1274.9 569.8 1278.8 570.2 1280.1"/>
<!-- tube -->
<path d="M616.3 1269.5V1372.4L616.2 1372.4C617 1373.6 618.6 1377.6 621 1379.6C623.4 1381.6 626.6 1383.4 630.6 1384.4C634.7 1385.5 640.3 1386 645.1 1386C649.9 1386 655.5 1385.5 659.6 1384.4C663.6 1383.4 666.8 1381.6 669.2 1379.6C671.5 1377.6 672.9 1373.6 673.7 1372.4V1272"/>
<path d="M619.4 1377.5V1438.2L619.4 1438.2C620.1 1439.6 621.3 1444 623.4 1446.3C625.6 1448.5 628.6 1450.5 632.3 1451.9C635.9 1453.2 640.8 1454.2 645.1 1454.3C649.4 1454.4 654.3 1453.6 657.9 1452.4C661.6 1451.2 664.5 1449.4 666.8 1447.1C669.1 1444.7 670.8 1439.7 671.6 1438.2V1377.5"/>
<path d="M621.5 1445V1480L621.5 1480C622 1481 622.4 1484.4 624.2 1486.4C626 1488.4 628.8 1490.7 632.3 1492C635.7 1493.4 640.8 1494.3 645.1 1494.4C649.4 1494.5 654.3 1493.7 657.9 1492.5C661.6 1491.3 664.7 1489.3 666.8 1487.2C668.9 1485.1 669.9 1481.2 670.5 1480V1445"/>
<path d="M647.5 1501.6L648 1561"/>
</g>
<!--/P9-->
<!--P12-->
<g class="l">
<!-- axis line -->
<path class="t" d="M683.1 1547.4L713.7 1531.2"/>
<!-- shaft edges -->
<path d="M706.9 1521.2L757.4 1492.5M717.5 1541.2L771.8 1511.5"/>
<!-- tip ellipse -->
<path d="M706.9 1521.2C705.3 1522.2 704.9 1524.9 705.2 1527.4C705.5 1529.9 706.7 1533.9 708.7 1536.2C710.8 1538.5 715.3 1541.1 717.5 1541.2C719.7 1541.3 721.3 1539 721.8 1536.8C722.4 1534.6 721.8 1530.7 720.6 1528.1C719.3 1525.5 716.6 1522.3 714.3 1521.2C712.1 1520.1 708.4 1520.2 706.9 1521.2Z"/>
<!-- threads -->
<path d="M714.3 1517.7C715.5 1518.9 719.6 1522.2 721.2 1524.7C722.8 1527.2 723.6 1530.5 724 1532.8C724.3 1535.1 723.4 1537.5 723.3 1538.4M722.5 1513.1C723.6 1514.2 727.7 1517.4 729.3 1519.9C731 1522.4 732 1525.8 732.5 1528.1C732.9 1530.4 731.9 1532.7 731.8 1533.7M730.6 1508.7C731.8 1509.9 736 1513.1 737.7 1515.6C739.4 1518.1 740.5 1521.4 740.9 1523.7C741.4 1526 740.6 1528.4 740.6 1529.3M739.3 1503.7C740.5 1504.9 744.5 1508.1 746.2 1510.6C747.9 1513.1 748.9 1516.4 749.3 1518.7C749.8 1521 749 1523.4 748.9 1524.3M747.4 1498.7C748.6 1499.9 753 1503.5 754.7 1506C756.4 1508.5 757.2 1511.4 757.7 1513.7C758.1 1516 757.5 1518.7 757.4 1519.7M754.9 1495C756.1 1496.1 760.4 1499.3 762.2 1501.8C763.9 1504.3 765.1 1507.7 765.6 1510C766 1512.2 765.2 1514.3 765.2 1515.2"/>
<!-- head -->
<path d="M756.4 1492.2L759.3 1478.7L771.2 1471.2L783.7 1473.2L792.4 1481L798 1492.2L797.6 1503.7L790.5 1511L782.7 1514.7L773 1512.5"/>
<path d="M759.3 1478.7L764.9 1479.7L776.8 1481L783.7 1473.2M776.8 1481L786.2 1498.1L782.7 1514.7M786.2 1498.1L797.1 1495.2"/>
<path d="M756.4 1492.2C758.3 1491.3 764.2 1487 767.4 1486.9C770.6 1486.7 773.5 1489 775.5 1491.2C777.6 1493.4 779.4 1497.2 779.9 1500C780.4 1502.8 779.8 1506 778.7 1508.1C777.5 1510.1 774 1511.5 773 1512.2"/>
<path class="t" d="M769.3 1486.6C770.8 1487.3 775.7 1488.8 778 1491C780.3 1493.2 782.3 1496.6 783 1499.7C783.8 1502.9 782.7 1508.2 782.7 1510"/>
</g>
<!--/P12-->
<!--P13-->
<g class="l">
<!-- clamp top ellipses -->
<path d="M646.40 1541.20A40.7 21.8 0 0 0 623.06 1580.86"/>
<path d="M658.98 1542.27A40.7 21.8 0 0 1 665.51 1582.25"/>
<path d="M661.70 1548.52A30.7 16.6 0 1 1 648.00 1546.41"/>
<!-- bolt axis -->
<path class="t" d="M683.3 1547.7L712.7 1532.1"/>
<!-- left boss -->
<path d="M604.8 1570.8C602.9 1572.2 596.2 1577 593.2 1579.2C590.2 1581.5 588.3 1581.6 586.9 1584.2C585.6 1586.8 584.7 1591.4 585.2 1594.9C585.6 1598.5 587.4 1602.7 589.6 1605.6C591.9 1608.6 595.6 1611.4 598.5 1612.8C601.5 1614.1 605.1 1614.3 607.5 1613.7C609.8 1613.1 611.7 1611.3 612.8 1609.2C613.9 1607.1 614 1602.5 614.2 1601.2"/>
<path d="M596.8 1587.8C594.8 1587.8 592.9 1589.4 592.3 1591.4C591.7 1593.3 592 1596.9 593.2 1599.4C594.4 1601.9 597.4 1605.3 599.4 1606.5C601.5 1607.7 604.3 1607.6 605.7 1606.5C607 1605.5 607.8 1602.8 607.5 1600.3C607.2 1597.8 605.7 1593.4 603.9 1591.4C602.1 1589.3 598.7 1587.8 596.8 1587.8Z"/>
<path class="t" d="M595 1589.9C594.8 1591.1 593.6 1594.4 594.1 1596.7C594.5 1599 597.1 1602.7 597.7 1603.9"/>
<!-- clamp left side & bottom -->
<path d="M605.7 1564.6L604.8 1571.7"/>
<path d="M607.1 1614.2C607 1616.2 605.3 1622.5 606.6 1626.2C607.8 1629.8 610.9 1633.4 614.6 1636C618.3 1638.5 623.4 1640.1 628.9 1641.3C634.4 1642.6 644.5 1643.1 647.6 1643.5"/>
<!-- arm left edge -->
<path d="M644 1638.6L659.2 1652L680 1670.3C682.4 1672.7 689.8 1680.4 694.3 1684.6C698.7 1688.8 703.5 1691.4 706.8 1695.3C710 1699.2 711.7 1703.3 713.9 1707.8C716.1 1712.3 718.4 1717 720.1 1722.1C721.9 1727.1 723.5 1732.8 724.6 1738.1C725.7 1743.5 726.6 1750.3 726.7 1754.2C726.9 1758 727 1759.4 725.5 1761.3C723.9 1763.3 719.8 1763.7 717.5 1765.8C715.1 1767.9 712.8 1770.7 711.2 1773.8C709.7 1776.9 708.6 1780.9 708.2 1784.5C707.7 1788.1 707.7 1792.2 708.5 1795.2C709.3 1798.2 712.3 1801.2 713 1802.4L716.6 1812.1C716.9 1814.5 718.5 1821 718.4 1826.4C718.2 1831.7 717 1838.6 715.7 1844.2C714.3 1849.9 712.4 1855.5 710.3 1860.3C708.2 1865 705.3 1868.9 703.2 1872.8C701.1 1876.6 699 1879.9 697.8 1883.5C696.7 1887 695.8 1891.2 696.4 1894.2C697 1897.2 699.4 1899.5 701.4 1901.3C703.4 1903.1 706.8 1903.8 708.5 1904.9C710.3 1905.9 711.6 1905.5 712.1 1907.6C712.6 1909.6 710.9 1914.7 711.8 1917.4C712.6 1920.1 714.9 1922.2 717.5 1923.6C720.1 1925 724 1926.1 727.3 1925.9C730.6 1925.8 734.4 1924.2 737.1 1922.7C739.8 1921.3 740.4 1918.6 743.3 1917.4C746.3 1916.1 751.8 1915.3 754.9 1915.2C758.1 1915.2 759.1 1917.4 762.1 1917C765 1916.6 768.9 1914.6 772.8 1912.9C776.6 1911.2 782 1908.9 785.3 1906.7C788.5 1904.4 790.6 1902.2 792.4 1899.5C794.2 1896.9 795.7 1893.7 796 1890.6C796.3 1887.5 794.5 1882.4 794.2 1880.8"/>
<!-- center ridge -->
<path d="M628 1594.9C628.1 1596.4 627.5 1600.3 628.9 1603.9C630.2 1607.4 632.4 1612.2 636 1616.3C639.6 1620.5 644.6 1624.4 650.3 1628.8C655.9 1633.3 666.6 1640.7 669.9 1643.1L680 1650.7C683 1653.1 691.9 1659.9 697.8 1665C703.8 1670 710 1675.7 715.7 1681C721.3 1686.4 727 1691.4 731.7 1697.1C736.5 1702.7 740.7 1709.3 744.2 1714.9C747.8 1720.6 750.9 1725.6 753.1 1731C755.4 1736.3 756.7 1741.4 757.6 1747C758.5 1752.7 758.7 1758.9 758.5 1764.9C758.4 1770.8 757.9 1777.4 756.7 1782.7C755.5 1788.1 752.3 1794.6 751.4 1797L747.8 1806.8C747.1 1808.8 744.4 1814.8 743.3 1819.3C742.3 1823.7 741.7 1829.1 741.6 1833.5C741.4 1838 741.6 1842.1 742.4 1846C743.3 1849.9 745.1 1853.9 746.9 1856.7C748.7 1859.5 750 1861 753.1 1863C756.3 1864.9 761.5 1866.7 765.6 1868.3C769.8 1869.9 774.6 1871.4 778.1 1872.8C781.7 1874.1 783.2 1875.9 787 1876.3C790.9 1876.8 796.6 1876.6 801.3 1875.5C806.1 1874.3 810.8 1872.3 815.6 1869.2C820.4 1866.1 825.7 1861.5 829.9 1856.7C834 1852 837.6 1846 840.6 1840.7C843.5 1835.3 845.9 1830.3 847.7 1824.6C849.6 1819 851 1809.7 851.6 1806.8L852.2 1789.9C851.6 1788.1 850.5 1782.3 848.6 1779.2C846.7 1776 844 1773.8 840.6 1771.1C837.2 1768.5 832.5 1765.9 828.1 1763.1C823.6 1760.3 818.7 1755.7 813.8 1754.2C808.9 1752.6 802.5 1753.2 798.6 1753.8C794.8 1754.4 793.7 1755.9 790.6 1757.8C787.5 1759.6 783.8 1761.5 779.9 1764.9C776 1768.3 769.5 1776 767.4 1778.3"/>
<!-- right edge -->
<path d="M686.9 1562.8C687 1565.8 686.4 1576.2 687.8 1580.7C689.1 1585.1 690.7 1586 694.9 1589.6C699.1 1593.1 706.2 1597 712.7 1602.1C719.3 1607.1 730.6 1616.9 734.1 1619.9L754.9 1640C757.3 1642.4 764.4 1648.6 769.2 1654.3C774 1659.9 779 1667.1 783.5 1673.9C787.9 1680.7 792.4 1688.2 796 1695.3C799.5 1702.4 802.7 1709.9 804.9 1716.7C807.1 1723.6 808.2 1730.8 809.3 1736.3C810.5 1741.8 811.3 1747.5 811.7 1749.7"/>
<path d="M698.5 1607.4C700.8 1609.1 707.4 1613.1 712.7 1617.2C718.1 1621.4 727.6 1629.9 730.6 1632.4L737.1 1640C739.5 1642.4 746.6 1648.9 751.4 1654.3C756.1 1659.6 761.2 1665.9 765.6 1672.1C770.1 1678.4 774.3 1684.9 778.1 1691.7C782 1698.6 786 1706.3 788.8 1713.1C791.7 1720 793.4 1726.1 795.1 1732.8C796.7 1739.5 798 1749.9 798.6 1753.3"/>
<!-- arcs on clamp -->
<path class="t" d="M662.8 1591.4C661.4 1592 656.4 1593.1 654.7 1594.9C653.1 1596.7 652.5 1599.8 653 1602.1C653.4 1604.3 655.5 1607.1 657.4 1608.3C659.4 1609.5 663.4 1609.1 664.6 1609.2M678.8 1590.5L674.4 1596.7M670.8 1602.1C671 1603.3 670.7 1607.2 671.7 1609.2C672.7 1611.2 676.2 1613.4 677 1614.2"/>
<!-- short inner line -->
<path class="t" d="M737.4 1719.4C738.3 1721.3 741 1727 742.4 1731C743.9 1735 745.5 1739.3 746.4 1743.5C747.3 1747.6 747.6 1753.9 747.8 1756"/>
<!-- upper bolt boss -->
<path d="M738.9 1766.7C736.2 1765.9 732.9 1765.8 730 1767.6C727 1769.3 723.3 1773.4 721 1777.4C718.8 1781.4 717 1787.8 716.6 1791.7C716.1 1795.5 716.7 1798.5 718.4 1800.6C720 1802.6 723.6 1803.9 726.4 1803.8C729.2 1803.6 732.6 1801.7 735.3 1799.7C738 1797.7 740.6 1794.8 742.4 1791.7C744.3 1788.5 745.8 1784.2 746.4 1780.9C747 1777.7 747.3 1774.4 746 1772C744.8 1769.6 741.6 1767.4 738.9 1766.7Z"/>
<path d="M739.8 1777C738 1776.7 734.7 1778.8 732.6 1780.9C730.6 1783.1 728 1787.2 727.3 1789.9C726.5 1792.5 727.1 1795.7 728.2 1797C729.2 1798.3 731.6 1798.8 733.5 1797.9C735.5 1797 738.1 1794.2 739.8 1791.7C741.4 1789.1 743.3 1785.2 743.3 1782.7C743.3 1780.3 741.6 1777.3 739.8 1777Z"/>
<path class="t" d="M723.7 1808.5C724.3 1809.7 726.5 1812.1 727.3 1815.7C728 1819.3 728.4 1824.9 728.2 1830C728 1835 727.1 1841.3 726 1846C725 1850.8 723.2 1854.8 721.9 1858.5C720.6 1862.2 719.1 1865.9 718.4 1868.3C717.6 1870.7 717.6 1872 717.5 1872.8"/>
<!-- hub bore -->
<path d="M835.2 1778.3C833.1 1777.9 826.9 1775.7 822.7 1776C818.6 1776.2 814.3 1777.5 810.2 1780.1C806.2 1782.6 802.5 1787 798.6 1791.3C794.8 1795.5 789.3 1803.2 787.4 1805.6L779 1819.3C778.1 1821.9 774.6 1830.3 773.7 1835.3C772.8 1840.4 772.9 1845.4 773.7 1849.6C774.4 1853.7 776.2 1857.5 778.1 1860.3C780.1 1863.1 784.1 1865.5 785.3 1866.5"/>
<path d="M831.7 1782.4C832.4 1783.6 835.3 1786.8 836.1 1789.9C836.9 1792.9 836.6 1798.8 836.6 1800.6L835.2 1806.8C834.3 1809.4 832.2 1817.5 829.9 1822.8C827.5 1828.2 824.5 1834.1 820.9 1838.9C817.4 1843.6 812.6 1847.8 808.5 1851.4C804.3 1854.9 800 1858.3 796 1860.3C792 1862.3 786.3 1863 784.4 1863.5"/>
<!-- tie rod arm -->
<path d="M812 1746.6L897.9 1741.4L898.7 1737.3L898.7 1737.3C901 1736.9 907.4 1735.5 912.4 1735C917.3 1734.5 923.9 1733.9 928.5 1734C933 1734.2 936.7 1734.8 939.7 1736.1C942.6 1737.4 944.9 1739.7 946.1 1741.7C947.3 1743.8 946.8 1747.1 946.9 1748.2L946.9 1764.2L946.9 1764.2C945.2 1765.4 940.1 1769.4 936.5 1771.5C932.9 1773.5 928.7 1774.9 925.2 1776.3C921.8 1777.7 917.5 1779.2 915.9 1779.8L853.8 1792.3"/>
<path d="M915.9 1779.8L916.4 1762.6L916.4 1762.6C919.8 1761.4 931.4 1757.7 936.5 1755.4C941.6 1753.1 945.2 1750 946.9 1749"/>
<path d="M898.7 1745.8L905.2 1765L849.8 1775.5"/>
<path class="t" d="M925.2 1739.3C923.9 1739.6 919.1 1739.9 917.2 1740.9C915.3 1742 913.7 1744 914 1745.8C914.3 1747.5 916.7 1750.4 918.8 1751.4C921 1752.4 924.2 1752.5 926.8 1751.7C929.5 1750.9 933.5 1747.4 934.9 1746.6"/>
<!-- lower ball joint boss -->
<path d="M718.4 1872.8C720.3 1871.4 722.4 1869.7 724.6 1869.2C726.8 1868.8 729.7 1868.9 731.7 1870.1C733.8 1871.3 736 1873.5 736.7 1876.3C737.5 1879.2 737 1883.8 736.2 1887C735.4 1890.3 733.7 1893.3 731.7 1896C729.8 1898.6 727.3 1901.3 724.6 1903.1C721.9 1904.9 718.4 1906.4 715.7 1906.7C713 1907 710.2 1906.4 708.5 1904.9C706.9 1903.4 706 1900.7 705.9 1897.8C705.7 1894.8 706.5 1890.5 707.7 1887C708.8 1883.6 711.2 1879.6 713 1877.2C714.8 1874.9 716.4 1874.1 718.4 1872.8Z"/>
<path d="M730 1880.8C728.6 1879.8 726.4 1879.8 724.6 1880.8C722.8 1881.8 720.6 1884.8 719.3 1887C717.9 1889.3 716.7 1892.1 716.6 1894.2C716.4 1896.3 717.2 1898.2 718.4 1899.5C719.5 1900.9 721.9 1902.8 723.7 1902.2C725.5 1901.6 727.6 1898.5 729.1 1896C730.6 1893.4 732.5 1889.6 732.6 1887C732.8 1884.5 731.3 1881.8 730 1880.8Z"/>
<path d="M722.8 1903.1C724.6 1902.5 730.3 1900.4 733.5 1899.5C736.8 1898.7 739.9 1898.2 742.4 1898.1C745 1898 747.1 1898.5 748.7 1899.2C750.3 1899.9 751.7 1901.7 752.3 1902.2M742.4 1904L743.3 1916.5"/>
<path class="t" d="M769.2 1873.7C769.2 1874.7 770.1 1877.4 769.2 1879.9C768.3 1882.4 765.6 1886.2 763.9 1888.8C762.1 1891.5 759.7 1893.6 758.5 1896C757.3 1898.3 756.3 1900.8 756.7 1903.1C757.2 1905.4 760.4 1908.8 761.2 1909.9M782.6 1896.9C783 1895.8 785.4 1892.4 785.3 1890.6C785.1 1888.8 783.3 1886.6 781.7 1886.2C780.1 1885.7 777.1 1886.6 775.5 1887.9C773.8 1889.3 772.4 1891.7 771.9 1894.2C771.4 1896.7 772.3 1901.6 772.4 1903.1"/>
</g>
<!--/P13-->
<rect x="316" y="1053" width="2.2" height="3" fill="#000"/>
<!--LABELS-->
<g class="t">
<path d="M155 174.7H202M119.5 268H165M124.5 642.5H172M152.5 738.7H198M147.5 815.5H194.5"/>
<path d="M722 123.7H768.5M756 337H803.8M714 625.4H761.7M690 847.7H737.7M684.4 988.7H730.7M813 1199.8H860.6M808 1493.5H854.4M958 1752.6H1003.5"/>
</g>
<text x="121" y="188">5</text>
<text x="87.4" y="281">4</text>
<text x="91" y="656">7</text>
<text x="118.3" y="752">6</text>
<text x="115" y="829">2</text>
<text x="777.2" y="134.2">8</text>
<text x="807.8" y="350.2">1</text>
<text x="766" y="638.9">10</text>
<text x="742.9" y="861.4">3</text>
<text x="735.6" y="1002.2">11</text>
<text x="869.8" y="1214">9</text>
<text x="858.7" y="1510.1">12</text>
<text x="1007.8" y="1767.3">13</text>
<!--/LABELS-->
<!--HL-->
<rect x="786.2" y="293.1" width="64.8" height="85.9" fill="#f00" fill-opacity="0.5"/>
<!--/HL-->
</svg>
<div id="foot"><span class="a"><b>VAG</b> - 7M7411105B</span><span class="c">N - 1</span></div>
</div>
</body>
</html>
